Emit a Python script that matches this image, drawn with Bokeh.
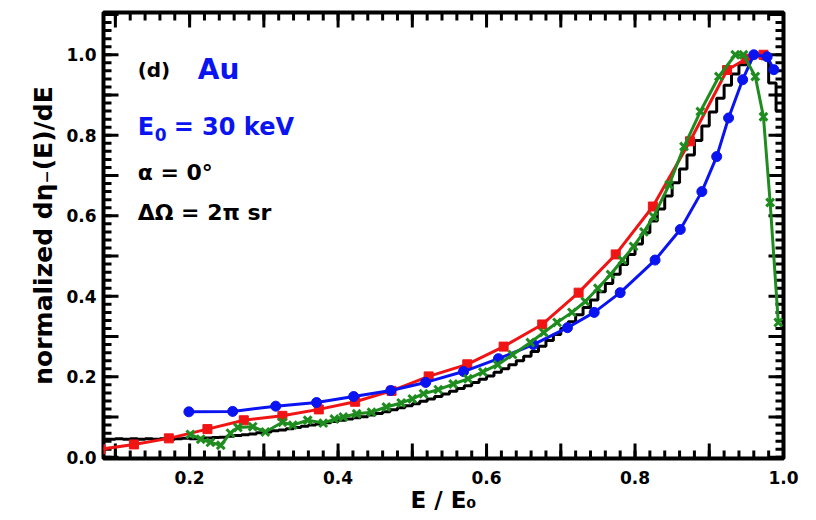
from bokeh.plotting import figure
from bokeh.models import Range1d, FixedTicker, CustomJSTickFormatter, Label
from bokeh.embed import file_html
from bokeh.resources import INLINE
import numpy as np

# ---- data ----
# black: simulated histogram, bins of width 0.01 starting at 0.08
hist_start = 0.08
hist_width = 0.01
hist_vals = [0.045, 0.045, 0.046, 0.045, 0.046, 0.045, 0.046, 0.045, 0.046, 0.045,
             0.046, 0.047, 0.046, 0.047, 0.048, 0.049, 0.050, 0.052, 0.054, 0.056,
             0.058, 0.061, 0.063, 0.066, 0.068, 0.071, 0.074, 0.077, 0.080, 0.083,
             0.086, 0.089, 0.092, 0.095, 0.098, 0.101, 0.105, 0.109, 0.113, 0.118,
             0.123, 0.128, 0.133, 0.139, 0.145, 0.151, 0.157, 0.164, 0.171, 0.178,
             0.186, 0.194, 0.202, 0.211, 0.220, 0.230, 0.240, 0.251, 0.263, 0.276,
             0.290, 0.305, 0.320, 0.337, 0.354, 0.372, 0.391, 0.411, 0.432, 0.455,
             0.479, 0.504, 0.530, 0.558, 0.587, 0.617, 0.649, 0.682, 0.716, 0.751,
             0.787, 0.823, 0.858, 0.892, 0.924, 0.952, 0.975, 0.992, 1.000, 0.990,
             0.930, 0.860]

red_x = [0.080, 0.125, 0.172, 0.224, 0.273, 0.325, 0.374, 0.423, 0.472, 0.522,
         0.574, 0.623, 0.675, 0.724, 0.774, 0.824, 0.874, 0.924, 0.950, 0.973]
red_y = [0.020, 0.032, 0.047, 0.070, 0.092, 0.103, 0.119, 0.138, 0.165, 0.201,
         0.231, 0.275, 0.330, 0.409, 0.504, 0.623, 0.785, 0.962, 0.990, 1.000]

blue_x = [0.199, 0.258, 0.316, 0.371, 0.421, 0.471, 0.518, 0.569, 0.616, 0.663,
          0.709, 0.745, 0.780, 0.827, 0.861, 0.890, 0.910, 0.926, 0.945, 0.960,
          0.978, 0.987]
blue_y = [0.113, 0.114, 0.127, 0.136, 0.151, 0.166, 0.186, 0.213, 0.245, 0.280,
          0.322, 0.360, 0.409, 0.490, 0.566, 0.660, 0.747, 0.843, 0.938, 1.000,
          0.995, 0.963]

green_x = [0.201, 0.215, 0.228, 0.242, 0.255, 0.265, 0.285, 0.302, 0.325, 0.339,
           0.359, 0.380, 0.395, 0.407, 0.425, 0.445, 0.465, 0.485, 0.500, 0.515,
           0.535, 0.555, 0.575, 0.595, 0.615, 0.635, 0.659, 0.677, 0.695, 0.715,
           0.733, 0.750, 0.767, 0.783, 0.798, 0.812, 0.825, 0.846, 0.866, 0.888,
           0.913, 0.935, 0.946, 0.962, 0.973, 0.982, 0.993]
green_y = [0.057, 0.045, 0.037, 0.030, 0.060, 0.074, 0.076, 0.063, 0.087, 0.080,
           0.092, 0.085, 0.095, 0.100, 0.108, 0.112, 0.125, 0.135, 0.145, 0.158,
           0.168, 0.182, 0.195, 0.212, 0.230, 0.255, 0.285, 0.310, 0.335, 0.360,
           0.387, 0.420, 0.454, 0.490, 0.524, 0.560, 0.598, 0.677, 0.772, 0.859,
           0.946, 1.000, 1.000, 0.946, 0.846, 0.633, 0.335]

x_major = [0.1, 0.2, 0.3, 0.4, 0.5, 0.6, 0.7, 0.8, 0.9]
y_major = [0.0, 0.1, 0.2, 0.3, 0.4, 0.5, 0.6, 0.7, 0.8, 0.9, 1.0, 1.1]
x_minor = [round(0.08 + 0.02 * i, 2) for i in range(46)]
y_minor = [round(0.02 * i, 2) for i in range(56)]

FONT = "DejaVu Sans"
BLUE = "#0a14f0"
RED = "#f01414"
GREEN = "#1e8c1e"

X0, X1 = 0.084, 1.0
Y0, Y1 = -0.003, 1.105
W, H = 816, 520
BL, BR, BT, BB = 103, 33, 12, 62

p = figure(width=W, height=H, output_backend="svg", toolbar_location=None,
           x_range=Range1d(X0, X1), y_range=Range1d(Y0, Y1),
           min_border_left=BL, min_border_right=BR, min_border_top=BT,
           min_border_bottom=BB)
p.grid.visible = False
p.outline_line_color = "black"
p.outline_line_width = 4
p.background_fill_color = "white"
p.border_fill_color = "white"

fmt = CustomJSTickFormatter(code="""
const k = Math.round(tick * 10);
return (k % 2 === 0) ? tick.toFixed(1) : '';
""")

for ax in (p.xaxis[0], p.yaxis[0]):
    ax.axis_line_color = None
    ax.major_tick_line_color = None
    ax.minor_tick_line_color = None
    ax.major_tick_in = 0
    ax.major_tick_out = 0
    ax.minor_tick_in = 0
    ax.minor_tick_out = 0
    ax.formatter = fmt
    ax.major_label_text_font = FONT
    ax.major_label_text_font_style = "bold"
    ax.major_label_text_font_size = "17px"
    ax.major_label_text_color = "black"
    ax.axis_label_text_font = FONT
    ax.axis_label_text_font_style = "bold"
    ax.axis_label_text_color = "black"

p.xaxis[0].ticker = FixedTicker(ticks=[0.2, 0.4, 0.6, 0.8, 1.0])
p.yaxis[0].ticker = FixedTicker(ticks=[0.0, 0.2, 0.4, 0.6, 0.8, 1.0])
p.xaxis[0].axis_label = "E / E₀"
p.xaxis[0].axis_label_text_font_size = "23px"
p.xaxis[0].major_label_standoff = 12
p.xaxis[0].axis_label_standoff = 0
p.yaxis[0].axis_label = "normalized dη₋(E)/dE"
p.yaxis[0].axis_label_text_font_size = "25px"
p.yaxis[0].major_label_standoff = 7
p.yaxis[0].axis_label_standoff = 5

# inward ticks on all four sides (from the tick lists)
fw, fh = W - BL - BR, H - BT - BB
dx = (X1 - X0) / fw
dy = (Y1 - Y0) / fh
MAJ, MIN = 15, 8
for ticks, ln in ((x_major, MAJ), (x_minor, MIN)):
    t = [v for v in ticks if X0 < v < X1]
    p.segment(t, [Y0] * len(t), t, [Y0 + ln * dy] * len(t), line_color="black", line_width=3)
    p.segment(t, [Y1] * len(t), t, [Y1 - ln * dy] * len(t), line_color="black", line_width=3)
for ticks, ln in ((y_major, MAJ), (y_minor, MIN)):
    t = [v for v in ticks if Y0 < v < Y1]
    p.segment([X0] * len(t), t, [X0 + ln * dx] * len(t), t, line_color="black", line_width=3)
    p.segment([X1] * len(t), t, [X1 - ln * dx] * len(t), t, line_color="black", line_width=3)

# black histogram
edges = list(np.round(hist_start + hist_width * np.arange(len(hist_vals) + 1), 3))
p.step(edges, hist_vals + [hist_vals[-1]], mode="after", line_color="black", line_width=3)

# red
p.line(red_x, red_y, line_color=RED, line_width=3)
p.scatter(red_x, red_y, marker="square", size=9, fill_color=RED, line_color=RED)

# blue
p.line(blue_x, blue_y, line_color=BLUE, line_width=3)
p.scatter(blue_x, blue_y, marker="circle", size=10, fill_color=BLUE, line_color=BLUE)

# green
p.line(green_x, green_y, line_color=GREEN, line_width=3)
p.scatter(green_x, green_y, marker="x", size=11, line_color=GREEN, line_width=3)

def lab(text, x, y, size, color="black", xo=0, yo=0, style="bold"):
    p.add_layout(Label(x=x, y=y, text=text, x_offset=xo, y_offset=yo,
                       text_font=FONT, text_font_style=style, text_font_size=size,
                       text_color=color, text_baseline="middle", text_align="left"))

tx = 0.130
lab("(d)", tx, 0.963, "20px")
lab("Au", 0.211, 0.963, "28px", BLUE)
lab("E", tx, 0.821, "24px", BLUE)
lab("0", tx, 0.821, "17px", BLUE, xo=17, yo=-8)
lab("= 30 keV", tx, 0.821, "24px", BLUE, xo=36)
lab("α = 0°", tx, 0.707, "22px")
lab("ΔΩ = 2π sr", tx, 0.608, "22px")

open("out.html", "w").write(file_html(p, INLINE))
